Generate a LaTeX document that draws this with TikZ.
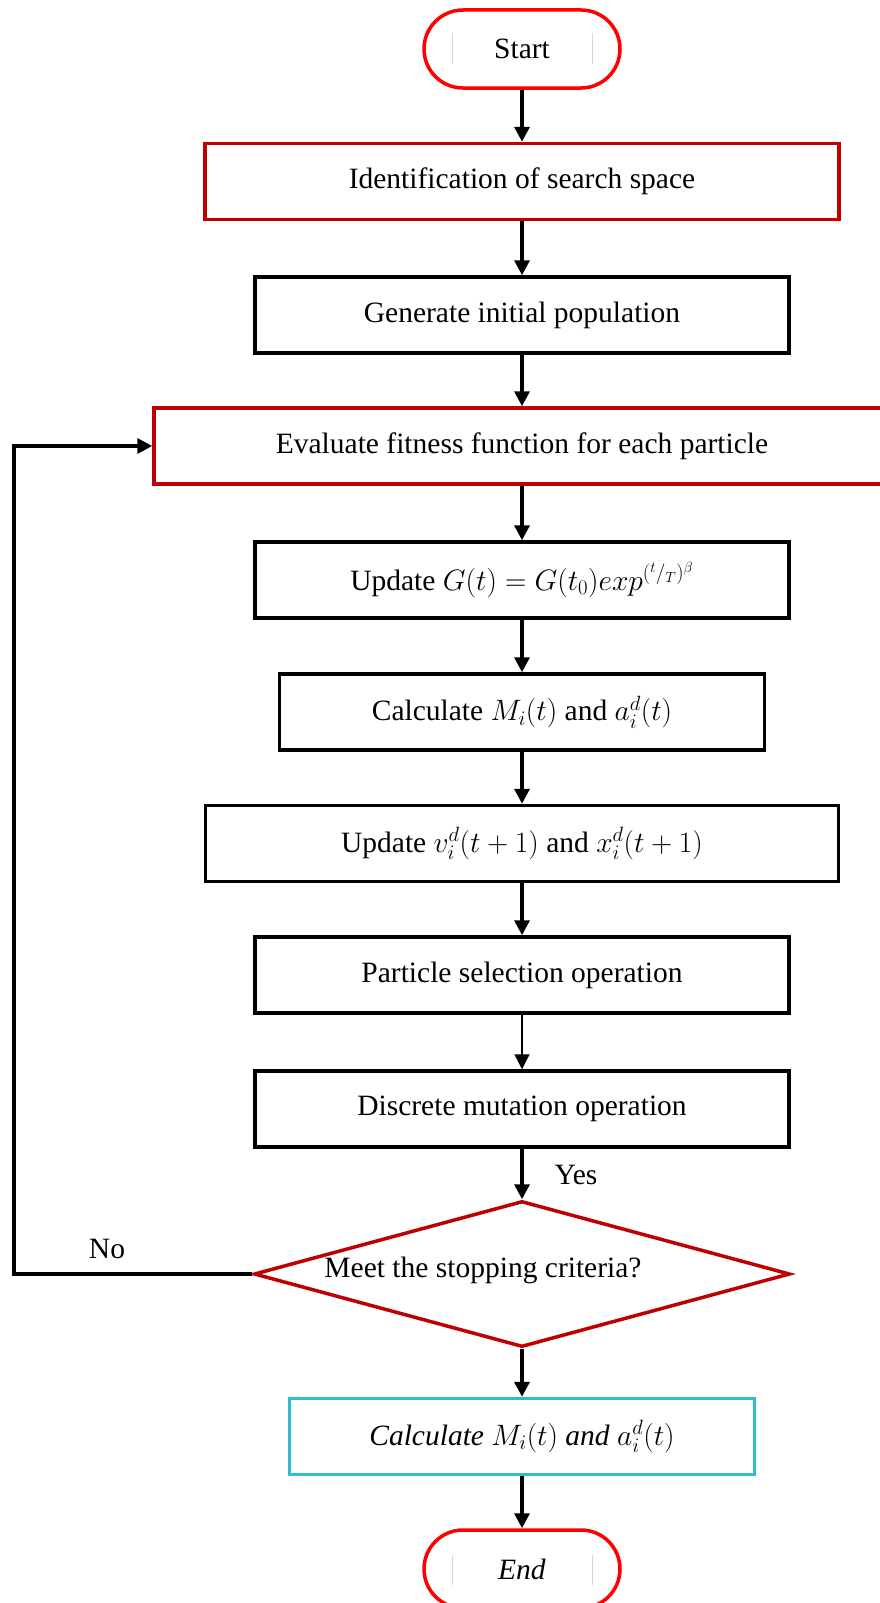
\RequirePackage{fix-cm}
\documentclass[tikz,border=0pt]{standalone}
\usepackage{fontspec}
\setmainfont{Liberation Serif}
\usetikzlibrary{arrows.meta,positioning,shapes.geometric,calc}
\definecolor{gsared}{RGB}{192,0,0}
\definecolor{gsabright}{RGB}{255,0,0}
\definecolor{gsacyan}{RGB}{46,190,204}
\definecolor{gsaink}{RGB}{0,0,0}
\definecolor{gsagrey}{RGB}{215,215,215}
\newcommand{\gsafont}{\fontsize{29.5}{34}\selectfont}
\tikzset{
  gsabox/.style={draw=gsaink, line width=3.5pt, fill=white, inner sep=0pt,
    align=center, minimum height=76pt, font=\gsafont},
  gsaredbox/.style={gsabox, draw=gsared},
  gsacyanbox/.style={gsabox, draw=gsacyan},
  gsaterm/.style={gsabox, draw=gsabright, minimum width=196pt,
    minimum height=78pt, rounded corners=39pt},
  gsadecide/.style={diamond, draw=gsared, line width=3.5pt, inner sep=0pt,
    aspect=3.67, minimum width=536pt, minimum height=146pt},
  gsaarrow/.style={-{Triangle[length=15pt,width=15pt]}, line width=3.5pt, gsaink},
  gsathin/.style={gsaarrow, line width=1.3pt},
  gsalabel/.style={font=\gsafont, inner sep=0pt},
  gsaghost/.style={gsagrey, line width=0.8pt},
}

\begin{document}
\begin{tikzpicture}[x=1pt,y=-1pt]
  \clip (0,0) rectangle (880,1603);
  \fill[white] (0,0) rectangle (880,1603);
  % boxes, top to bottom
  \node[gsaterm] (start) at (522,49) {Start};
  \node[gsaredbox, minimum width=634pt] (ident) at (522,181.5) {Identification of search space};
  \node[gsabox, minimum width=534pt] (gen) at (522,315) {Generate initial population};
  \node[gsaredbox, minimum width=736pt] (evalb) at (522,446) {Evaluate fitness function for each particle};
  \node[gsabox, minimum width=534pt] (updg) at (522,580) {Update $G(t)=G(t_0)exp^{({}^{t}/{}_{T})^{\beta}}$};
  \node[gsabox, minimum width=485pt] (calc) at (522,712) {Calculate $M_i(t)$ and $a_i^d(t)$};
  \node[gsabox, minimum width=633pt] (updv) at (522,843.5) {Update $v_i^d(t+1)$ and $x_i^d(t+1)$};
  \node[gsabox, minimum width=534pt] (psel) at (522,975) {Particle selection operation};
  \node[gsabox, minimum width=534pt] (dmut) at (522,1109) {Discrete mutation operation};
  \node[gsadecide] (stop) at (522,1274) {};
  \node[gsalabel] (stoptxt) at (483,1270) {Meet the stopping criteria?};
  \node[gsacyanbox, minimum width=465pt] (final) at (522,1436.5) {\textit{Calculate} $M_i(t)$ \textit{and} $a_i^d(t)$};
  \node[gsaterm] (finish) at (522,1569) {\textit{End}};
  % faint text-frame marks in the terminals
  \draw[gsaghost] ($(start.center)+(-70,-16)$) -- ++(0,31);
  \draw[gsaghost] ($(start.center)+(70,-16)$) -- ++(0,31);
  \draw[gsaghost] ($(finish.center)+(-70,-14)$) -- ++(0,30);
  \draw[gsaghost] ($(finish.center)+(70,-14)$) -- ++(0,30);
  % labels
  \node[gsalabel] (yeslbl) at (576,1175) {Yes};
  \node[gsalabel] (nolbl) at (107,1249) {No};
  % arrows
  \draw[gsaarrow] (start.south) -- (ident.north);
  \draw[gsaarrow] (ident.south) -- (gen.north);
  \draw[gsaarrow] (gen.south) -- (evalb.north);
  \draw[gsaarrow] (evalb.south) -- (updg.north);
  \draw[gsaarrow] (updg.south) -- (calc.north);
  \draw[gsaarrow] (calc.south) -- (updv.north);
  \draw[gsaarrow] (updv.south) -- (psel.north);
  \draw[gsathin] (psel.south) -- (dmut.north);
  \draw[gsaarrow] (dmut.south) -- (stop.north);
  \draw[gsaarrow] (stop.south) -- (final.north);
  \draw[gsaarrow] (final.south) -- (finish.north);
  % loop back on No
  \coordinate (loopcorner) at (14,1274);
  \draw[gsaarrow] (stop.west) -- (loopcorner) |- (evalb.west);
\end{tikzpicture}
\end{document}
